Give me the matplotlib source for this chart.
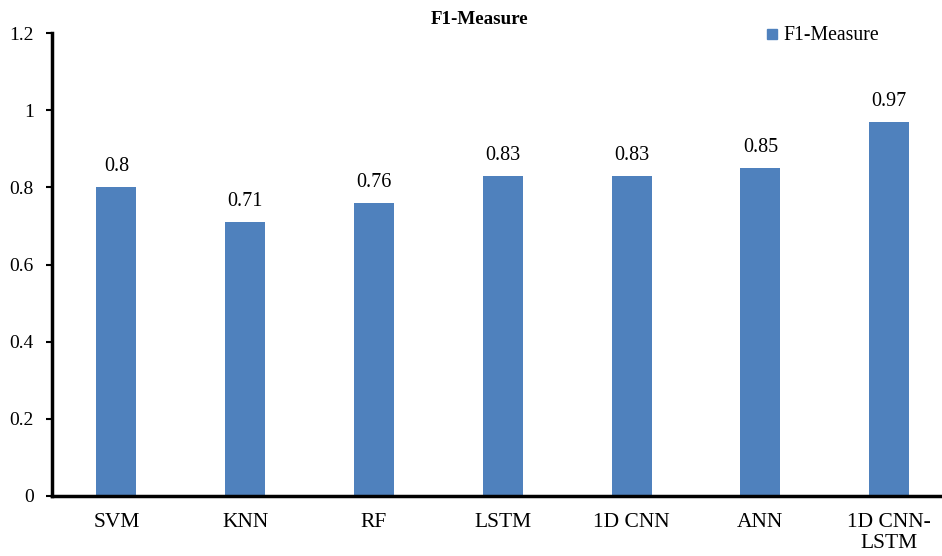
import matplotlib
matplotlib.use("Agg")
import matplotlib.pyplot as plt
from matplotlib.lines import Line2D

categories = ["SVM", "KNN", "RF", "LSTM", "1D CNN", "ANN", "1D CNN-\nLSTM"]
f1_values = [0.8, 0.71, 0.76, 0.83, 0.83, 0.85, 0.97]
value_labels = ["0.8", "0.71", "0.76", "0.83", "0.83", "0.85", "0.97"]
yticks = [0, 0.2, 0.4, 0.6, 0.8, 1.0, 1.2]
ytick_labels = ["0", "0.2", "0.4", "0.6", "0.8", "1", "1.2"]

plt.rcParams["font.family"] = ["Liberation Serif", "DejaVu Serif"]

W, H = 942, 556
fig = plt.figure(figsize=(W / 100, H / 100), dpi=100)
ax = fig.add_axes([52 / W, (H - 496) / H, (W - 52) / W, (496 - 33) / H])

bar_color = "#4F81BD"
x = list(range(len(categories)))
ax.bar(x, f1_values, width=0.31, color=bar_color, zorder=2)

for xi, v, lab in zip(x, f1_values, value_labels):
    ax.annotate(lab, (xi, v), xytext=(0, 8), textcoords="offset points",
                ha="center", va="bottom", fontsize=14.5)

ax.set_ylim(0, 1.2)
ax.set_xlim(-0.5, 6.41)
ax.set_yticks(yticks)
ax.set_yticklabels(ytick_labels, fontsize=14)
ax.set_xticks(x)
ax.set_xticklabels(categories, fontsize=15.5, linespacing=1.2)
ax.tick_params(axis="x", length=0, pad=12)
ax.tick_params(axis="y", direction="out", length=4, width=1.5, pad=9)

for s in ["top", "right"]:
    ax.spines[s].set_visible(False)
for s in ["left", "bottom"]:
    ax.spines[s].set_linewidth(2.5)

fig.text(480 / W, 1 - 19 / H, "F1-Measure", ha="center", va="center",
         fontsize=13.7, fontweight="bold")

handle = Line2D([], [], marker="s", linestyle="none", markersize=7.5,
                markerfacecolor=bar_color, markeredgecolor=bar_color)
fig.legend([handle], ["F1-Measure"], loc="center left",
           bbox_to_anchor=(762 / W, 1 - 36 / H), frameon=False,
           fontsize=14.2, handletextpad=0.1, handlelength=1.0,
           borderaxespad=0, borderpad=0)

fig.savefig("out.png", dpi=100)
